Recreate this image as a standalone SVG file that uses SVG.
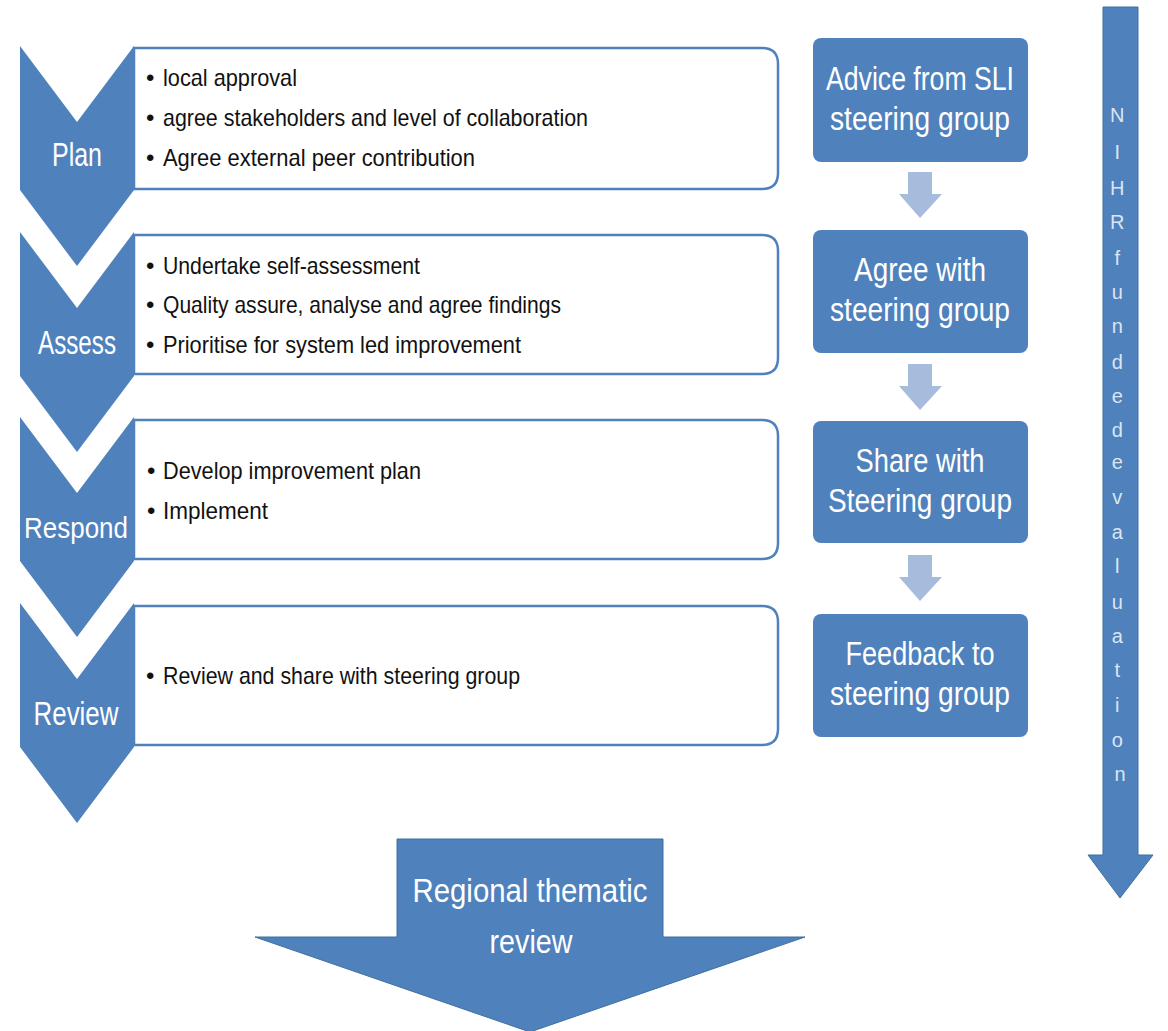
<svg xmlns="http://www.w3.org/2000/svg" width="1168" height="1031" viewBox="0 0 1168 1031">
<style>
.chev{fill:#4f81bd;}
.box{fill:#ffffff;stroke:#4f81bd;stroke-width:2.5;}
.rbox{fill:#4f81bd;}
.small{fill:#a7bbdc;}
.big{fill:#4f81bd;stroke:#41719c;stroke-width:1;}
.lab{font-family:"Liberation Sans",Arial,sans-serif;font-size:33px;fill:#ffffff;text-anchor:middle;}
.bul{font-family:"Liberation Sans",Arial,sans-serif;font-size:24px;fill:#111111;}
.dot{fill:#111111;}
.vl{font-family:"Liberation Sans",Arial,sans-serif;font-size:20px;fill:#dce5f2;text-anchor:middle;}
</style>
<rect width="1168" height="1031" fill="#ffffff"/>

<g id="plan">
<path class="box" d="M134,48 H762 Q778,48 778,64 V173 Q778,189 762,189 H134 Z"/>
<path class="chev" d="M20,46 L77,122 L134,46 L134,190 L77,266 L20,190 Z"/>
<text class="lab" x="77" y="166" textLength="50" lengthAdjust="spacingAndGlyphs">Plan</text>
<text class="bul" x="146" y="86">•</text>
<text class="bul" x="163" y="86" textLength="134" lengthAdjust="spacingAndGlyphs">local approval</text>
<text class="bul" x="146" y="126">•</text>
<text class="bul" x="163" y="126" textLength="425" lengthAdjust="spacingAndGlyphs">agree stakeholders and level of collaboration</text>
<text class="bul" x="146" y="166">•</text>
<text class="bul" x="163" y="166" textLength="312" lengthAdjust="spacingAndGlyphs">Agree external peer contribution</text>
</g>

<g id="assess">
<path class="box" d="M134,235 H762 Q778,235 778,251 V358 Q778,374 762,374 H134 Z"/>
<path class="chev" d="M20,232 L77,308 L134,232 L134,376 L77,452 L20,376 Z"/>
<text class="lab" x="77" y="354" textLength="78" lengthAdjust="spacingAndGlyphs">Assess</text>
<text class="bul" x="146" y="274">•</text>
<text class="bul" x="163" y="274" textLength="257" lengthAdjust="spacingAndGlyphs">Undertake self-assessment</text>
<text class="bul" x="146" y="313">•</text>
<text class="bul" x="163" y="313" textLength="398" lengthAdjust="spacingAndGlyphs">Quality assure, analyse and agree findings</text>
<text class="bul" x="146" y="353">•</text>
<text class="bul" x="163" y="353" textLength="358" lengthAdjust="spacingAndGlyphs">Prioritise for system led improvement</text>
</g>

<g id="respond">
<path class="box" d="M134,420 H762 Q778,420 778,436 V543 Q778,559 762,559 H134 Z"/>
<path class="chev" d="M20,417 L77,493 L134,417 L134,561 L77,637 L20,561 Z"/>
<text class="lab" x="76" y="538" style="font-size:30px" textLength="104" lengthAdjust="spacingAndGlyphs">Respond</text>
<text class="bul" x="147" y="479">•</text>
<text class="bul" x="163" y="479" textLength="258" lengthAdjust="spacingAndGlyphs">Develop improvement plan</text>
<text class="bul" x="147" y="519">•</text>
<text class="bul" x="163" y="519" textLength="105" lengthAdjust="spacingAndGlyphs">Implement</text>
</g>

<g id="review">
<path class="box" d="M134,606 H762 Q778,606 778,622 V729 Q778,745 762,745 H134 Z"/>
<path class="chev" d="M20,603 L77,679 L134,603 L134,747 L77,823 L20,747 Z"/>
<text class="lab" x="76" y="725" textLength="85" lengthAdjust="spacingAndGlyphs">Review</text>
<text class="bul" x="146" y="684">•</text>
<text class="bul" x="163" y="684" textLength="357" lengthAdjust="spacingAndGlyphs">Review and share with steering group</text>
</g>

<g id="advice">
<rect class="rbox" x="813" y="38" width="215" height="124" rx="8"/>
<text class="lab" x="920" y="90" textLength="188" lengthAdjust="spacingAndGlyphs">Advice from SLI</text>
<text class="lab" x="920" y="130" textLength="180" lengthAdjust="spacingAndGlyphs">steering group</text>
</g>

<g id="agree">
<rect class="rbox" x="813" y="230" width="215" height="123" rx="8"/>
<text class="lab" x="920" y="281" textLength="132" lengthAdjust="spacingAndGlyphs">Agree with</text>
<text class="lab" x="920" y="321" textLength="180" lengthAdjust="spacingAndGlyphs">steering group</text>
</g>

<g id="share">
<rect class="rbox" x="813" y="421" width="215" height="122" rx="8"/>
<text class="lab" x="920" y="472" textLength="129" lengthAdjust="spacingAndGlyphs">Share with</text>
<text class="lab" x="920" y="512" textLength="184" lengthAdjust="spacingAndGlyphs">Steering group</text>
</g>

<g id="feedback">
<rect class="rbox" x="813" y="614" width="215" height="123" rx="8"/>
<text class="lab" x="920" y="665" textLength="149" lengthAdjust="spacingAndGlyphs">Feedback to</text>
<text class="lab" x="920" y="705" textLength="180" lengthAdjust="spacingAndGlyphs">steering group</text>
</g>

<g id="connectors">
<path class="small" d="M908,172 H932 V194 H942 L920,218 L899,194 H908 Z"/>
<path class="small" d="M908,364 H932 V386 H942 L920,410 L899,386 H908 Z"/>
<path class="small" d="M908,555 H932 V577 H942 L920,601 L899,577 H908 Z"/>
</g>

<g id="nihr">
<path class="big" d="M1103,7 H1138 V855 H1153 L1120,898 L1088,855 H1103 Z"/>
<text class="vl">
<tspan x="1120" y="122">N</tspan>
<tspan x="1120" y="159">I</tspan>
<tspan x="1120" y="195">H</tspan>
<tspan x="1120" y="229">R</tspan>
<tspan x="1120" y="265">f</tspan>
<tspan x="1120" y="299">u</tspan>
<tspan x="1120" y="333">n</tspan>
<tspan x="1120" y="369">d</tspan>
<tspan x="1120" y="403">e</tspan>
<tspan x="1120" y="437">d</tspan>
<tspan x="1120" y="469">e</tspan>
<tspan x="1120" y="504">v</tspan>
<tspan x="1120" y="539">a</tspan>
<tspan x="1120" y="573">l</tspan>
<tspan x="1120" y="609">u</tspan>
<tspan x="1120" y="643">a</tspan>
<tspan x="1120" y="677">t</tspan>
<tspan x="1120" y="712">i</tspan>
<tspan x="1120" y="747">o</tspan>
<tspan x="1120" y="781">n</tspan>
</text>
</g>

<g id="regional">
<path class="big" d="M397,839 H663 V937 H805 L530,1032 L255,937 H397 Z"/>
<text class="lab" x="530" y="902" textLength="235" lengthAdjust="spacingAndGlyphs">Regional thematic</text>
<text class="lab" x="531" y="953" textLength="83" lengthAdjust="spacingAndGlyphs">review</text>
</g>
</svg>
